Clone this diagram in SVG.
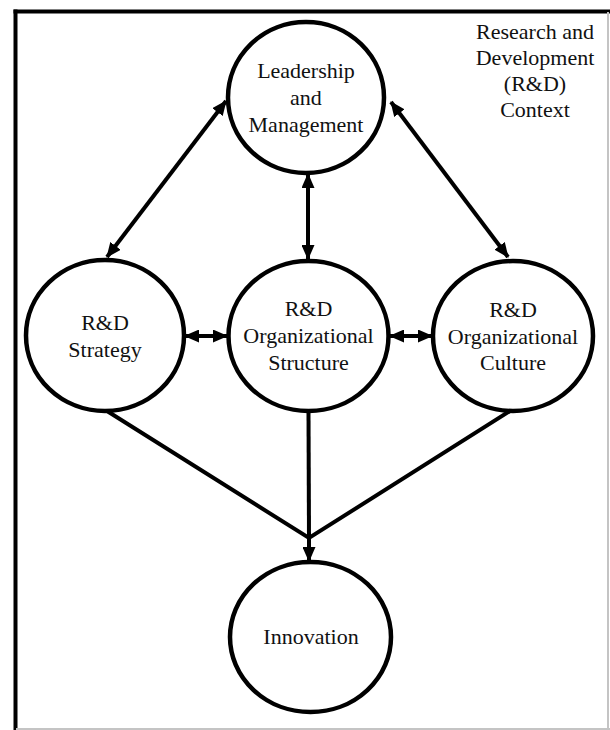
<svg xmlns="http://www.w3.org/2000/svg" width="610" height="730" viewBox="0 0 610 730">
  <style>
    .node { fill: #ffffff; stroke: #000000; stroke-width: 4.5; }
    .label { font-family: "Liberation Serif", "Times New Roman", serif; font-size: 22px; fill: #111111; text-anchor: middle; }
    .link { fill: none; stroke: #000000; stroke-width: 4; }
    .frame { stroke: #000000; stroke-width: 4; }
    .frame-faint { stroke: #c4c4c4; stroke-width: 2; }
  </style>
  <defs>
    <marker id="head" markerUnits="userSpaceOnUse" markerWidth="15" markerHeight="13" refX="14" refY="6.5" orient="auto-start-reverse">
      <path d="M0,0 L15,6.5 L0,13 Z" fill="#000000"/>
    </marker>
  </defs>

  <rect width="610" height="730" fill="#ffffff"/>

  <!-- context frame -->
  <g id="frame">
    <line class="frame" x1="13.5" y1="11.5" x2="610" y2="11.5"/>
    <line class="frame" x1="15.5" y1="9.5" x2="15.5" y2="730"/>
    <line class="frame-faint" x1="608" y1="12" x2="608" y2="729"/>
    <line class="frame-faint" x1="16" y1="729" x2="610" y2="729"/>
  </g>

  <g id="context-label">
    <text class="label" x="535" y="39">Research and</text>
    <text class="label" x="535" y="65">Development</text>
    <text class="label" x="535" y="91">(R&amp;D)</text>
    <text class="label" x="535" y="117">Context</text>
  </g>

  <!-- connectors -->
  <g id="connectors">
    <line class="link" x1="107" y1="257" x2="226" y2="101" marker-start="url(#head)" marker-end="url(#head)"/>
    <line class="link" x1="508" y1="257" x2="391" y2="102" marker-start="url(#head)" marker-end="url(#head)"/>
    <line class="link" x1="308" y1="174" x2="308" y2="259" marker-start="url(#head)" marker-end="url(#head)"/>
    <line class="link" x1="185" y1="336" x2="227" y2="336" marker-start="url(#head)" marker-end="url(#head)"/>
    <line class="link" x1="390" y1="336" x2="432" y2="336" marker-start="url(#head)" marker-end="url(#head)"/>
    <polyline class="link" points="107,411 309,538 510,411"/>
    <line class="link" x1="308.5" y1="412" x2="309" y2="538"/>
    <line class="link" x1="309" y1="536" x2="309" y2="561" marker-end="url(#head)"/>
  </g>

  <g id="leadership">
    <ellipse class="node" cx="306" cy="97.5" rx="78" ry="75.5"/>
    <text class="label" x="306" y="78">Leadership</text>
    <text class="label" x="306" y="105">and</text>
    <text class="label" x="306" y="132">Management</text>
  </g>

  <g id="strategy">
    <ellipse class="node" cx="105" cy="335.5" rx="79" ry="75.5"/>
    <text class="label" x="105" y="330">R&amp;D</text>
    <text class="label" x="105" y="357">Strategy</text>
  </g>

  <g id="structure">
    <ellipse class="node" cx="308.5" cy="336" rx="80" ry="75"/>
    <text class="label" x="308.5" y="316">R&amp;D</text>
    <text class="label" x="308.5" y="343">Organizational</text>
    <text class="label" x="308.5" y="370">Structure</text>
  </g>

  <g id="culture">
    <ellipse class="node" cx="513" cy="336" rx="80" ry="75"/>
    <text class="label" x="513" y="317">R&amp;D</text>
    <text class="label" x="513" y="344">Organizational</text>
    <text class="label" x="513" y="370">Culture</text>
  </g>

  <g id="innovation">
    <ellipse class="node" cx="310.5" cy="637" rx="80.5" ry="75"/>
    <text class="label" x="311" y="644">Innovation</text>
  </g>
</svg>
